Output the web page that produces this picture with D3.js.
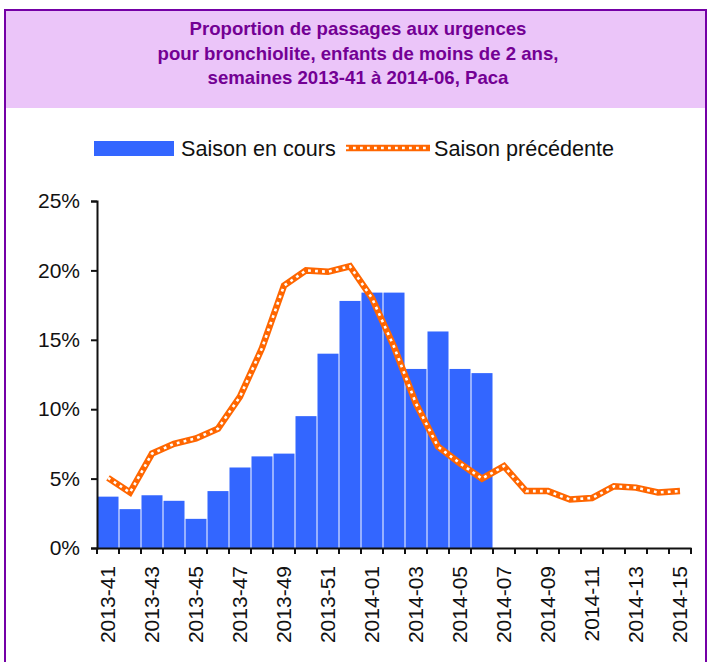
<!DOCTYPE html>
<html>
<head>
<meta charset="utf-8">
<title>Bronchiolite Paca</title>
<script src="https://d3js.org/d3.v7.min.js"></script>
<style>
  body { margin: 0; background: #fff; }
  svg { display: block; font-family: "Liberation Sans", Arial, sans-serif; }
</style>
</head>
<body>
<svg id="chart" width="710" height="662"></svg>
<script>
// data
const titleLines = [
  "Proportion de passages aux urgences",
  "pour bronchiolite, enfants de moins de 2 ans,",
  "semaines 2013-41 à 2014-06, Paca"
];
const weeks = [
  "2013-41","2013-42","2013-43","2013-44","2013-45","2013-46","2013-47","2013-48","2013-49",
  "2013-50","2013-51","2013-52","2014-01","2014-02","2014-03","2014-04","2014-05","2014-06",
  "2014-07","2014-08","2014-09","2014-10","2014-11","2014-12","2014-13","2014-14","2014-15"
];
// saison en cours (2013-41 à 2014-06), en %
const saisonEnCours = [3.7, 2.8, 3.8, 3.4, 2.1, 4.1, 5.8, 6.6, 6.8, 9.5, 14.0, 17.8, 18.4, 18.4, 12.9, 15.6, 12.9, 12.6];
// saison précédente, en %
const saisonPrecedente = [5.05, 4.0, 6.8, 7.5, 7.9, 8.6, 10.9, 14.4, 18.9, 20.0, 19.9, 20.3, 18.0, 14.5, 10.4, 7.3, 6.1, 5.0, 5.9, 4.1, 4.1, 3.5, 3.6, 4.45, 4.35, 4.0, 4.1];
const yTicks = [0, 5, 10, 15, 20, 25];
const legendLabels = ["Saison en cours", "Saison précédente"];

const purple = "#7400a6";
const blue = "#3366ff";
const orange = "#ff6600";

const svg = d3.select("#chart");

// cadre + bandeau titre
svg.append("rect")
  .attr("x", 5).attr("y", 10)
  .attr("width", 701).attr("height", 98)
  .style("fill", "#ebc5f9");
svg.append("rect")
  .attr("x", 5).attr("y", 10)
  .attr("width", 701).attr("height", 670)
  .style("fill", "none")
  .style("stroke", purple)
  .style("stroke-width", 2);

svg.append("g")
  .selectAll("text")
  .data(titleLines)
  .join("text")
    .attr("x", 358)
    .attr("y", (d, i) => 35 + i * 24.5)
    .attr("text-anchor", "middle")
    .style("font-size", "18.6px")
    .style("font-weight", "bold")
    .style("fill", "#730094")
    .text(d => d);

// scales
const x = d3.scaleBand()
  .domain(weeks)
  .range([97, 691])
  .paddingInner(0.045)
  .paddingOuter(0.0225);
const y = d3.scaleLinear()
  .domain([0, 25])
  .range([548, 201]);

// bars
svg.append("g")
  .selectAll("rect")
  .data(saisonEnCours)
  .join("rect")
    .attr("x", (d, i) => x(weeks[i]))
    .attr("y", d => y(d))
    .attr("width", x.bandwidth())
    .attr("height", d => y(0) - y(d))
    .style("fill", blue);

// line
const line = d3.line()
  .x((d, i) => x(weeks[i]) + x.bandwidth() / 2)
  .y(d => y(d));
svg.append("path")
  .datum(saisonPrecedente)
  .attr("d", line)
  .style("fill", "none")
  .style("stroke", orange)
  .style("stroke-width", 6.5)
  .style("stroke-linejoin", "miter");
svg.append("path")
  .datum(saisonPrecedente)
  .attr("d", line)
  .style("fill", "none")
  .style("stroke", "#fff")
  .style("stroke-width", 2.6)
  .style("stroke-dasharray", "2.8,4.2");

// y axis
const yAxis = svg.append("g")
  .attr("transform", "translate(97,0)")
  .call(d3.axisLeft(y).tickValues(yTicks).tickSize(6).tickPadding(11).tickFormat(d => d + "%"));
yAxis.select(".domain").style("stroke", "#111").style("stroke-width", 2);
yAxis.selectAll(".tick line").style("stroke", "#111").style("stroke-width", 2);
yAxis.selectAll("text")
  .style("font-family", "'Liberation Sans', Arial, sans-serif")
  .style("font-size", "21px")
  .style("fill", "#111");

// x axis
const xAxis = svg.append("g")
  .attr("transform", "translate(0,548)")
  .call(d3.axisBottom(x).tickSize(0).tickSizeOuter(0)
    .tickFormat((d, i) => i % 2 === 0 ? d : ""));
xAxis.select(".domain").style("stroke", "#111").style("stroke-width", 2);
xAxis.selectAll("text")
  .attr("transform", "rotate(-90)")
  .attr("x", -18)
  .attr("y", 0)
  .attr("dy", "0.35em")
  .attr("text-anchor", "end")
  .style("font-family", "'Liberation Sans', Arial, sans-serif")
  .style("font-size", "21px")
  .style("fill", "#111");
// graduations entre les catégories
svg.append("g")
  .selectAll("line")
  .data(d3.range(weeks.length + 1))
  .join("line")
    .attr("x1", i => x.range()[0] + i * x.step())
    .attr("x2", i => x.range()[0] + i * x.step())
    .attr("y1", y(0))
    .attr("y2", y(0) + 6)
    .style("stroke", "#111")
    .style("stroke-width", 2);

// legend
const legend = svg.append("g");
legend.append("rect")
  .attr("x", 94).attr("y", 141)
  .attr("width", 80).attr("height", 15)
  .style("fill", blue);
legend.append("line")
  .attr("x1", 346).attr("x2", 430)
  .attr("y1", 148).attr("y2", 148)
  .style("stroke", orange).style("stroke-width", 6.5);
legend.append("line")
  .attr("x1", 346).attr("x2", 430)
  .attr("y1", 148).attr("y2", 148)
  .style("stroke", "#fff").style("stroke-width", 2.6)
  .style("stroke-dasharray", "2.8,4.2");
legend.selectAll("text")
  .data(legendLabels)
  .join("text")
    .attr("x", (d, i) => i === 0 ? 181 : 434)
    .attr("y", 156)
    .style("font-size", "21.6px")
    .style("fill", "#111")
    .text(d => d);
</script>
</body>
</html>
